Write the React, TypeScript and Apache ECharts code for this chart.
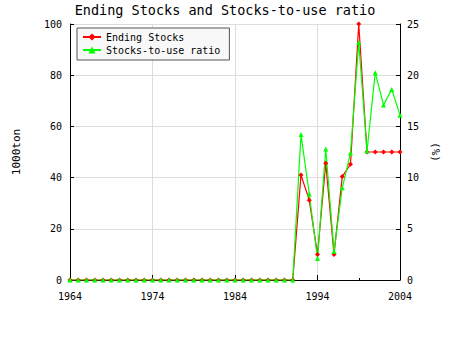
import React, { useEffect, useRef } from "react";
import * as echarts from "echarts";

const years: number[] = [];
for (let y = 1964; y <= 2004; y++) years.push(y);

// Ending Stocks (1000ton), 1964..2004
const endingStocks: number[] = [
  0, 0, 0, 0, 0, 0, 0, 0, 0, 0, // 1964-1973
  0, 0, 0, 0, 0, 0, 0, 0, 0, 0, // 1974-1983
  0, 0, 0, 0, 0, 0, 0, 0,       // 1984-1991
  41, 31.2, 10, 45.6, 10, 40.4, 45.2, 100, 50, 50, 50, 50, 50, // 1992-2004
];

// Stocks-to-use ratio (%), 1964..2004
const stocksToUse: number[] = [
  0, 0, 0, 0, 0, 0, 0, 0, 0, 0,
  0, 0, 0, 0, 0, 0, 0, 0, 0, 0,
  0, 0, 0, 0, 0, 0, 0, 0,
  14.2, 8.4, 2.1, 12.8, 2.8, 9.0, 12.4, 23.2, 12.6, 20.25, 17.1, 18.6, 16.1,
];

const FONT = "DejaVu Sans Mono";

export default function App() {
  const ref = useRef<HTMLDivElement>(null);
  useEffect(() => {
    document.body.style.margin = "0";
    if (!ref.current) return;
    const chart = echarts.init(ref.current, null, { renderer: "svg" });
    chart.setOption({
      animation: false,
      backgroundColor: "#ffffff",
      textStyle: { fontFamily: FONT, color: "#000" },
      title: {
        text: "Ending Stocks and Stocks-to-use ratio",
        left: "center",
        top: 3,
        padding: 0,
        textStyle: { fontFamily: FONT, fontSize: 13.5, fontWeight: "normal", color: "#000" },
      },
      legend: {
        orient: "vertical",
        left: 77,
        top: 28,
        padding: [4, 9, 5, 5],
        itemGap: 3,
        itemWidth: 18,
        itemHeight: 9,
        borderColor: "#555",
        borderWidth: 1,
        borderRadius: 0,
        backgroundColor: "#f8f8f8",
        textStyle: { fontFamily: FONT, fontSize: 10, color: "#000" },
        data: ["Ending Stocks", "Stocks-to-use ratio"],
      },
      grid: { left: 70, right: 50, top: 24, bottom: 70, containLabel: false },
      xAxis: {
        type: "value",
        min: 1964,
        max: 2004,
        interval: 10,
        axisLine: { show: true, onZero: false, lineStyle: { color: "#000", width: 1 } },
        axisTick: { show: true, inside: true, length: 5, lineStyle: { color: "#000" } },
        minorTick: { show: true, splitNumber: 2, length: 2, lineStyle: { color: "#000" } },
        axisLabel: {
          fontFamily: FONT,
          fontSize: 10,
          color: "#000",
          margin: 11,
          formatter: (v: number) => String(v),
        },
        splitLine: { show: true, lineStyle: { color: "#dddddd" } },
      },
      yAxis: [
        {
          type: "value",
          min: 0,
          max: 100,
          interval: 20,
          name: "1000ton",
          nameLocation: "middle",
          nameGap: 48,
          nameRotate: 90,
          nameTextStyle: { fontFamily: FONT, fontSize: 11, color: "#000" },
          axisLine: { show: true, lineStyle: { color: "#000" } },
          axisTick: { show: true, inside: true, length: 4, lineStyle: { color: "#000" } },
          axisLabel: { fontFamily: FONT, fontSize: 10, color: "#000", margin: 8 },
          splitLine: { show: true, lineStyle: { color: "#dddddd" } },
        },
        {
          type: "value",
          min: 0,
          max: 25,
          interval: 5,
          name: "(%)",
          nameLocation: "middle",
          nameGap: 27,
          nameRotate: -90,
          nameTextStyle: { fontFamily: FONT, fontSize: 11, color: "#000" },
          axisLine: { show: true, lineStyle: { color: "#000" } },
          axisTick: { show: true, inside: true, length: 4, lineStyle: { color: "#000" } },
          axisLabel: { fontFamily: FONT, fontSize: 10, color: "#000", margin: 7 },
          splitLine: { show: false },
        },
      ],
      series: [
        {
          name: "Ending Stocks",
          type: "line",
          yAxisIndex: 0,
          data: years.map((y, i) => [y, endingStocks[i]]),
          symbol: "diamond",
          symbolSize: 5,
          showAllSymbol: true,
          color: "#ff0000",
          lineStyle: { color: "#ff0000", width: 1.2 },
          itemStyle: { color: "#ff0000" },
        },
        {
          name: "Stocks-to-use ratio",
          type: "line",
          yAxisIndex: 1,
          data: years.map((y, i) => [y, stocksToUse[i]]),
          symbol: "triangle",
          symbolSize: 5,
          showAllSymbol: true,
          color: "#00ff00",
          lineStyle: { color: "#00ff00", width: 1.2 },
          itemStyle: { color: "#00ff00" },
        },
      ],
    });
    return () => chart.dispose();
  }, []);
  return <div ref={ref} style={{ width: 450, height: 350 }} />;
}
